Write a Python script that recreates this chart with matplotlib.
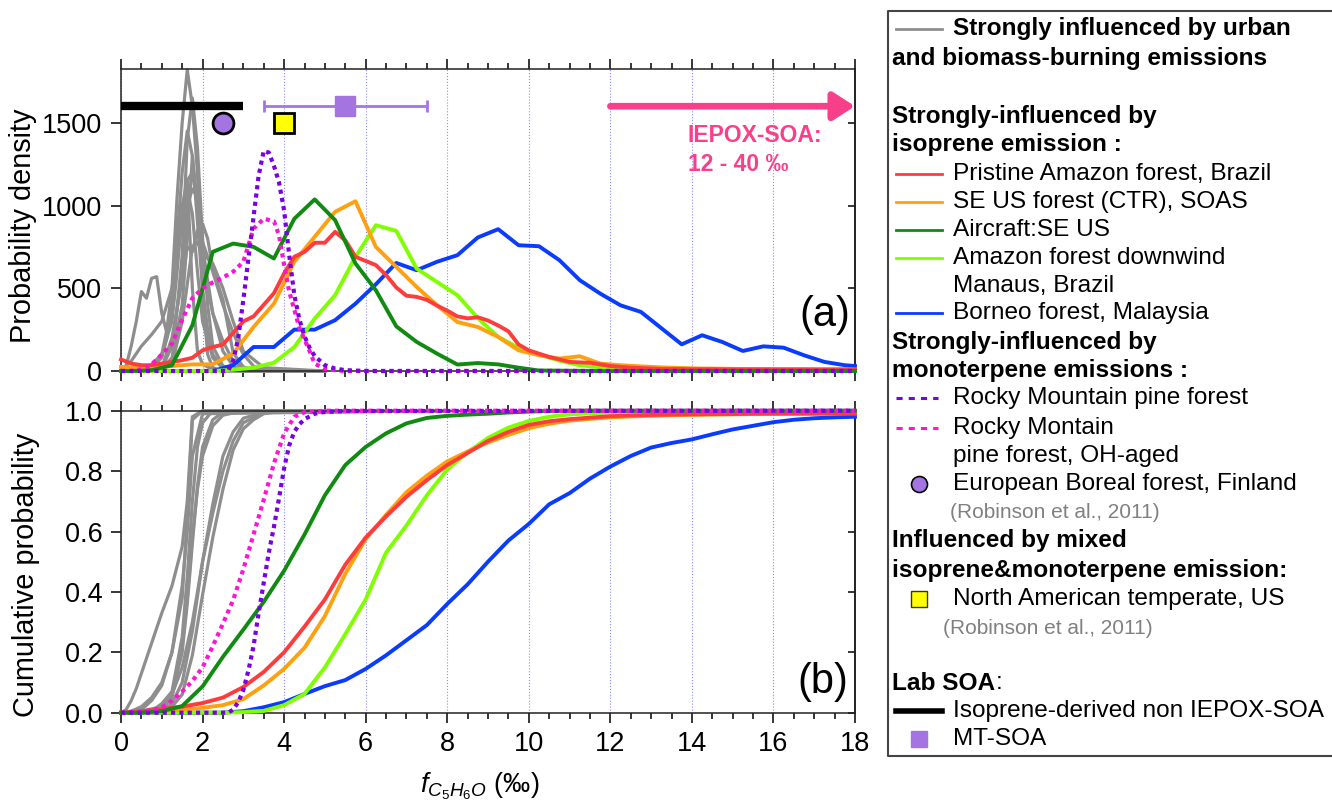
import numpy as np
import matplotlib
matplotlib.use("Agg")
from matplotlib import pyplot as plt

plt.rcParams['font.family'] = ['Liberation Sans', 'DejaVu Sans']
plt.rcParams['mathtext.fontset'] = 'custom'
plt.rcParams['mathtext.rm'] = 'Liberation Sans'
plt.rcParams['mathtext.it'] = 'Liberation Sans:italic'

# ---- probability density (panel a) ----
# bins for most of the isoprene sites
pdf_x = np.concatenate([[0.0], np.arange(0.25, 18, 0.5), [18.0]])
green_pdf = [0, 0, 5, 35, 276, 720, 770, 750, 680, 920, 1037, 912, 650, 488, 270, 176, 105, 39, 48, 40,
             20, 3, 2, 1, 0, 0, 0, 0, 0, 0, 0, 0, 0, 0, 0, 0, 0, 0]
orange_pdf = [25, 20, 20, 30, 40, 40, 105, 266, 407, 660, 811, 962, 1026, 750, 629, 508, 397, 296, 266, 206,
              125, 95, 75, 89, 45, 35, 28, 22, 18, 15, 14, 12, 12, 10, 10, 8, 8, 8]
lime_pdf = [0, 0, 0, 0, 0, 0, 8, 20, 50, 145, 317, 458, 690, 881, 847, 619, 538, 458, 320, 206,
            140, 100, 62, 35, 22, 15, 10, 8, 6, 5, 5, 4, 4, 3, 3, 3, 3, 3]
blue_pdf = [0, 0, 0, 0, 0, 0, 35, 145, 145, 250, 250, 307, 407, 524, 653, 609, 660, 700, 807, 857,
            760, 754, 670, 549, 468, 397, 357, 259, 161, 216, 175, 121, 149, 141, 95, 55, 35, 30]

red_pdf_x = np.arange(0, 18.01, 0.25)
red_pdf = [70, 45, 35, 35, 45, 55, 65, 80, 125, 145, 160, 230, 300, 330, 400, 470, 590, 690, 720, 775,
           775, 841, 790, 690, 665, 640, 580, 505, 455, 448, 430, 395, 365, 330, 318, 325, 305, 275, 240, 160,
           125, 105, 85, 70, 55, 52, 50, 40, 30, 25, 20, 18, 15,
           12, 12, 12, 11, 11, 11, 10, 10, 10, 10, 10, 10, 10, 10, 10, 10, 10, 10, 10, 10]

purple_pdf_x = [0, 2.625, 2.75, 2.875, 3.0, 3.125, 3.25, 3.375, 3.5, 3.625, 3.75, 3.875, 4.0, 4.125,
                4.25, 4.375, 4.5, 4.625, 4.75, 5.0, 5.25, 5.5, 6.0, 18]
purple_pdf = [0, 0, 60, 200, 430, 680, 930, 1180, 1330, 1320, 1240, 1140, 970, 700,
              460, 310, 210, 140, 90, 35, 15, 5, 0, 0]
pink_pdf_x = [0, 0.25, 0.5, 0.75, 1.0, 1.25, 1.5, 1.75, 2.0, 2.25, 2.5, 2.75, 3.0, 3.25, 3.5, 3.75,
              3.875, 4.0, 4.125, 4.25, 4.375, 4.5, 4.625, 4.75, 5.0, 5.25, 5.5, 18]
pink_pdf = [0, 0, 10, 40, 100, 165, 310, 440, 500, 535, 565, 600, 660, 860, 920, 905,
            820, 640, 480, 370, 260, 190, 120, 45, 12, 5, 0, 0]

# urban / biomass-burning sites (grey)
gray_pdf_x = [
    [0, 0.125, 0.25, 0.375, 0.5, 0.625, 0.75, 0.875, 1.0, 1.125, 1.25, 1.375, 1.5, 1.625, 1.75, 1.875, 2.0, 2.25, 2.5, 5],
    [0, 0.5, 0.75, 1.0, 1.125, 1.25, 1.375, 1.5, 1.625, 1.75, 1.875, 2.0, 2.125, 2.25, 2.5, 5],
    [0, 0.75, 1.0, 1.125, 1.25, 1.375, 1.5, 1.625, 1.75, 1.875, 2.0, 2.125, 2.25, 2.5, 3, 5],
    [0, 0.75, 1.0, 1.25, 1.375, 1.5, 1.625, 1.75, 1.875, 2.0, 2.25, 2.5, 2.75, 3, 5],
    [0, 1.0, 1.25, 1.5, 1.625, 1.75, 1.875, 2.0, 2.125, 2.25, 2.5, 2.625, 2.75, 3.0, 3.25, 5],
    [0, 1.0, 1.25, 1.5, 1.625, 1.75, 1.875, 2.0, 2.25, 2.5, 2.75, 3.0, 3.25, 3.5, 5],
    [0, 0.25, 0.5, 0.75, 1.0, 1.25, 1.5, 1.625, 1.75, 1.875, 2.0, 2.25, 2.5, 3, 5],
    [0, 1.25, 1.5, 1.75, 1.875, 2.0, 2.125, 2.25, 2.5, 2.75, 3.0, 3.5, 5],
    [0, 1.0, 1.25, 1.5, 1.625, 1.75, 1.875, 2.0, 2.25, 2.5, 2.75, 3.0, 3.5, 5],
    [0, 1.25, 1.5, 1.625, 1.75, 1.875, 2.0, 2.125, 2.25, 2.5, 3, 5],
]
gray_pdf_y = [
    [0, 30, 150, 300, 480, 440, 560, 570, 350, 230, 330, 650, 1000, 1150, 500, 120, 40, 10, 0, 0],
    [0, 10, 40, 100, 250, 500, 1050, 1500, 1820, 1600, 1200, 470, 100, 20, 0, 0],
    [0, 20, 80, 200, 450, 800, 1200, 1450, 1300, 900, 500, 250, 100, 20, 0, 0],
    [0, 30, 100, 300, 600, 950, 1150, 1200, 1000, 750, 350, 120, 30, 5, 0],
    [0, 20, 200, 550, 750, 720, 850, 890, 800, 620, 430, 270, 110, 25, 5, 0],
    [0, 15, 150, 600, 1000, 1100, 1050, 780, 600, 400, 230, 100, 30, 5, 0],
    [0, 60, 150, 220, 300, 500, 900, 1100, 950, 600, 300, 80, 15, 0, 0],
    [0, 40, 300, 750, 780, 700, 680, 650, 500, 300, 120, 20, 0],
    [0, 10, 80, 400, 800, 1300, 1000, 650, 350, 180, 60, 15, 0, 0],
    [0, 50, 700, 1400, 1650, 1350, 800, 400, 150, 30, 0, 0],
]

# ---- cumulative probability (panel b) ----
cdf_x = np.arange(0, 18.01, 0.5)
green_cdf = [0, 0, 0.005, 0.022, 0.087, 0.185, 0.275, 0.367, 0.47, 0.59, 0.72, 0.82, 0.88, 0.925, 0.958, 0.976,
             0.983, 0.987, 0.99, 0.994, 0.997, 0.999, 1, 1, 1, 1, 1, 1, 1, 1, 1, 1, 1, 1, 1, 1, 1]
red_cdf = [0, 0.005, 0.012, 0.02, 0.032, 0.05, 0.085, 0.135, 0.2, 0.285, 0.375, 0.49, 0.58, 0.65, 0.715, 0.77,
           0.82, 0.86, 0.9, 0.93, 0.953, 0.965, 0.972, 0.977, 0.982, 0.984, 0.986, 0.987, 0.988, 0.989, 0.989,
           0.99, 0.99, 0.99, 0.99, 0.99, 0.99]
orange_cdf = [0, 0.003, 0.006, 0.01, 0.016, 0.025, 0.045, 0.09, 0.145, 0.215, 0.32, 0.46, 0.575, 0.655, 0.73,
              0.785, 0.832, 0.865, 0.895, 0.92, 0.942, 0.957, 0.967, 0.973, 0.978, 0.981, 0.983, 0.985, 0.986,
              0.987, 0.988, 0.989, 0.99, 0.991, 0.991, 0.992, 0.992]
lime_cdf = [0, 0, 0, 0, 0, 0, 0.002, 0.006, 0.025, 0.062, 0.15, 0.26, 0.375, 0.53, 0.62, 0.72, 0.805, 0.862,
            0.91, 0.944, 0.966, 0.98, 0.988, 0.991, 0.994, 0.995, 0.996, 0.997, 0.997, 0.998, 0.998, 0.998,
            0.998, 0.998, 0.998, 0.998, 0.998]
blue_cdf = [0, 0, 0, 0, 0, 0, 0.005, 0.018, 0.035, 0.062, 0.088, 0.108, 0.145, 0.19, 0.24, 0.29, 0.36, 0.425,
            0.5, 0.57, 0.625, 0.69, 0.727, 0.775, 0.815, 0.85, 0.878, 0.893, 0.905, 0.922, 0.938, 0.95, 0.962,
            0.97, 0.975, 0.978, 0.98]
purple_cdf_x = [0, 2.625, 2.75, 2.875, 3.0, 3.125, 3.25, 3.375, 3.5, 3.625, 3.75, 3.875, 4.0, 4.125, 4.25,
                4.375, 4.5, 4.75, 5.0, 5.5, 18]
purple_cdf = [0, 0, 0.01, 0.035, 0.075, 0.14, 0.22, 0.33, 0.43, 0.53, 0.615, 0.71, 0.81, 0.885, 0.93,
              0.955, 0.972, 0.99, 0.996, 0.999, 1.0]
pink_cdf_x = [0, 0.5, 0.75, 1.0, 1.25, 1.5, 1.75, 2.0, 2.25, 2.5, 2.75, 3.0, 3.25, 3.5, 3.75, 4.0, 4.25, 4.5,
              5.0, 18]
pink_cdf = [0, 0.003, 0.008, 0.017, 0.04, 0.07, 0.105, 0.15, 0.22, 0.295, 0.373, 0.475, 0.59, 0.705, 0.825,
            0.925, 0.98, 0.995, 1.0, 1.0]

gray_cdf_x = [
    [0, 0.125, 0.25, 0.375, 0.5, 0.75, 1.0, 1.25, 1.5, 1.625, 1.75, 2, 8],
    [0, 0.5, 0.75, 1.0, 1.25, 1.5, 1.625, 1.75, 2, 8],
    [0, 0.75, 1.0, 1.25, 1.5, 1.625, 1.75, 1.875, 2.0, 2.25, 8],
    [0, 0.75, 1.0, 1.25, 1.5, 1.625, 1.75, 1.875, 2.0, 2.25, 2.5, 8],
    [0, 1.0, 1.25, 1.5, 1.75, 2.0, 2.25, 2.5, 2.75, 3.0, 3.5, 8],
    [0, 1.0, 1.25, 1.5, 1.75, 2.0, 2.25, 2.5, 2.75, 3.0, 3.25, 3.5, 4, 8],
    [0, 0.25, 0.5, 0.75, 1.0, 1.25, 1.5, 1.625, 1.75, 2.0, 8],
    [0, 1.0, 1.25, 1.5, 1.625, 1.75, 1.875, 2.0, 2.25, 2.5, 3.0, 8],
    [0, 0.5, 1.0, 1.25, 1.5, 1.75, 1.875, 2.0, 2.25, 2.5, 2.75, 3.0, 3.5, 8],
]
gray_cdf_y = [
    [0, 0.01, 0.04, 0.08, 0.13, 0.23, 0.33, 0.42, 0.55, 0.70, 0.98, 1, 1],
    [0, 0.01, 0.04, 0.09, 0.2, 0.38, 0.65, 0.97, 1, 1],
    [0, 0.005, 0.03, 0.07, 0.25, 0.45, 0.7, 0.88, 0.96, 1, 1],
    [0, 0.005, 0.02, 0.06, 0.2, 0.36, 0.56, 0.75, 0.88, 0.97, 0.995, 1],
    [0, 0.005, 0.03, 0.1, 0.27, 0.5, 0.69, 0.85, 0.93, 0.975, 0.995, 1],
    [0, 0.004, 0.02, 0.06, 0.19, 0.39, 0.58, 0.74, 0.87, 0.94, 0.97, 0.99, 1, 1],
    [0, 0.005, 0.02, 0.05, 0.1, 0.2, 0.42, 0.6, 0.85, 0.99, 1],
    [0, 0.01, 0.05, 0.22, 0.38, 0.58, 0.74, 0.85, 0.95, 0.985, 1, 1],
    [0, 0.005, 0.02, 0.06, 0.15, 0.3, 0.4, 0.5, 0.66, 0.8, 0.9, 0.96, 0.995, 1],
]

# reference points / lab values
finland_x, finland_y = 2.5, 1500
north_am_x, north_am_y = 4.0, 1500
lab_iso_range, lab_y = (0, 3), 1600
mt_soa_x, mt_soa_err = 5.5, 2.0
iepox_range = (12, 18)

GRAY = '#8e8e8e'
RED = '#ff3c3c'
ORANGE = '#ffa010'
GREEN = '#118a11'
LIME = '#80ff00'
BLUE = '#0a3cff'
PURPLE = '#7a00e6'
PINK = '#ff14d2'
LAVENDER = '#a474e0'
IEPOX = '#f8408a'

fig = plt.figure(figsize=(13.32, 8.07), dpi=100)

# legend panel drawn in figure pixels
leg = fig.add_axes([0, 0, 1, 1])
leg.set_xlim(0, 1332)
leg.set_ylim(807, 0)
leg.axis('off')

ax1 = fig.add_axes([121 / 1332, (807 - 371) / 807, 734 / 1332, 302 / 807])
ax2 = fig.add_axes([121 / 1332, (807 - 712.7) / 807, 734 / 1332, 302 / 807])

dot = (0, (1, 1))
for xs, ys in zip(gray_pdf_x, gray_pdf_y):
    ax1.plot(xs, ys, color=GRAY, lw=2.3, zorder=2, clip_on=False)
ax1.plot(pdf_x, blue_pdf, color=BLUE, lw=2.8, zorder=3, clip_on=False)
ax1.plot(pdf_x, lime_pdf, color=LIME, lw=2.8, zorder=3, clip_on=False)
ax1.plot(pdf_x, orange_pdf, color=ORANGE, lw=2.8, zorder=3, clip_on=False)
ax1.plot(red_pdf_x, red_pdf, color=RED, lw=2.8, zorder=3, clip_on=False)
ax1.plot(pdf_x, green_pdf, color=GREEN, lw=2.8, zorder=3, clip_on=False)
ax1.plot(pink_pdf_x, pink_pdf, color=PINK, lw=3, ls=dot, dash_capstyle='butt', zorder=4, clip_on=False)
ax1.plot(purple_pdf_x, purple_pdf, color=PURPLE, lw=3, ls=dot, dash_capstyle='butt', zorder=4, clip_on=False)

for xs, ys in zip(gray_cdf_x, gray_cdf_y):
    ax2.plot(xs, ys, color=GRAY, lw=2.3, zorder=2, clip_on=False)
ax2.plot(cdf_x, blue_cdf, color=BLUE, lw=2.8, zorder=3, clip_on=False)
ax2.plot(cdf_x, lime_cdf, color=LIME, lw=2.8, zorder=3, clip_on=False)
ax2.plot(cdf_x, orange_cdf, color=ORANGE, lw=2.8, zorder=3, clip_on=False)
ax2.plot(cdf_x, red_cdf, color=RED, lw=2.8, zorder=3, clip_on=False)
ax2.plot(cdf_x, green_cdf, color=GREEN, lw=2.8, zorder=3, clip_on=False)
ax2.plot(pink_cdf_x, pink_cdf, color=PINK, lw=3, ls=dot, dash_capstyle='butt', zorder=4, clip_on=False)
ax2.plot(purple_cdf_x, purple_cdf, color=PURPLE, lw=3, ls=dot, dash_capstyle='butt', zorder=4, clip_on=False)

# markers and ranges in panel (a)
ax1.plot(lab_iso_range, [lab_y, lab_y], color='black', lw=6, solid_capstyle='butt', zorder=5, clip_on=False)
ax1.plot(finland_x, finland_y, 'o', ms=15, mfc=LAVENDER, mec='black', mew=2, zorder=6)
ax1.plot(north_am_x, north_am_y, 's', ms=14.5, mfc='#ffff00', mec='black', mew=2, zorder=6)
ax1.errorbar(mt_soa_x, lab_y, xerr=mt_soa_err, fmt='s', ms=14, color=LAVENDER, ecolor=LAVENDER,
             elinewidth=2, capsize=4, capthick=2, zorder=6)
ax1.annotate('', xy=(iepox_range[1], lab_y), xytext=(iepox_range[0], lab_y),
             arrowprops=dict(arrowstyle='-|>,head_length=0.65,head_width=0.42', color=IEPOX, lw=4.8,
                             mutation_scale=20, shrinkA=0, shrinkB=0), zorder=6)
ax1.text(13.9, 1490, 'IEPOX-SOA:\n12 - 40 \u2030', color=IEPOX, fontsize=16.5, fontweight='bold',
         va='top', ha='left', linespacing=1.3)
ax1.text(17.25, 340, '(a)', fontsize=30, ha='center', va='center')
ax2.text(17.2, 0.10, '(b)', fontsize=30, ha='center', va='center')


def style_axes(ax, yticks):
    ax.set_xlim(0, 18)
    ax.set_xticks(np.arange(0, 19, 2))
    ax.set_xticks(np.arange(0, 18.1, 0.5), minor=True)
    ax.set_yticks(yticks)
    ax.tick_params(axis='x', which='both', direction='out', top=True, bottom=True, width=1.1,
                   labelsize=19.5, pad=6)
    ax.tick_params(axis='x', which='major', length=7.5)
    ax.tick_params(axis='x', which='minor', length=4)
    ax.tick_params(axis='y', direction='out', length=7.5, width=1.1, labelsize=19.5, right=False, pad=6)
    ax.grid(axis='x', color='#8c8cff', linestyle=':', linewidth=0.8)
    for s in ax.spines.values():
        s.set_linewidth(1.1)
        s.set_color('#222222')
    right = ax.secondary_yaxis('right')
    right.set_yticks(yticks)
    right.tick_params(direction='in', length=5, width=1.1, labelright=False)
    right.spines['right'].set_linewidth(1.1)


style_axes(ax1, [0, 500, 1000, 1500])
ax1.set_ylim(0, 1825)
ax1.tick_params(axis='x', labelbottom=False)
ax1.set_ylabel('Probability density', fontsize=20.8)
ax1.yaxis.set_label_coords(-0.114, 0.48)

style_axes(ax2, [0, 0.2, 0.4, 0.6, 0.8, 1.0])
ax2.set_ylim(0, 1.0)
ax2.set_yticklabels(['0.0', '0.2', '0.4', '0.6', '0.8', '1.0'])
ax2.set_ylabel('Cumulative probability', fontsize=20.8)
ax2.yaxis.set_label_coords(-0.110, 0.455)
ax2.set_xlabel('$f_{C_5H_6O}$ (\u2030)', fontsize=19.5)
ax2.xaxis.set_label_coords(0.489, -0.19)

# legend box: open on the right, it runs up to the picture edge
leg.plot([1332, 888, 888, 1332], [11, 11, 756, 756], color='#444444', lw=1.5)
lx0, lx1, tx, hx = 896, 942, 953, 892
fs = 17.6
leg.plot([lx0, lx1], [29, 29], color=GRAY, lw=2)
leg.text(tx, 29, 'Strongly influenced by urban', fontsize=fs, fontweight='bold', va='center')
leg.text(hx, 58, 'and biomass-burning emissions', fontsize=fs, fontweight='bold', va='center')
leg.text(hx, 117, 'Strongly-influenced by', fontsize=fs, fontweight='bold', va='center')
leg.text(hx, 145, 'isoprene emission :', fontsize=fs, fontweight='bold', va='center')
for y, c, lab in [(174, RED, 'Pristine Amazon forest, Brazil'),
                  (202, ORANGE, 'SE US forest (CTR), SOAS'),
                  (230, GREEN, 'Aircraft:SE US'),
                  (258, LIME, 'Amazon forest downwind'),
                  (313, BLUE, 'Borneo forest, Malaysia')]:
    leg.plot([lx0, lx1], [y, y], color=c, lw=2)
    leg.text(tx, y, lab, fontsize=fs, va='center')
leg.text(tx, 286, 'Manaus, Brazil', fontsize=fs, va='center')
leg.text(hx, 342, 'Strongly-influenced by', fontsize=fs, fontweight='bold', va='center')
leg.text(hx, 371, 'monoterpene emissions :', fontsize=fs, fontweight='bold', va='center')
leg.plot([lx0, 938], [398, 398], color=PURPLE, lw=2.2, ls=(0, (2, 2)))
leg.text(tx, 398, 'Rocky Mountain pine forest', fontsize=fs, va='center')
leg.plot([lx0, 938], [428, 428], color=PINK, lw=2.2, ls=(0, (2, 2)))
leg.text(tx, 428, 'Rocky Montain', fontsize=fs, va='center')
leg.text(tx, 456, 'pine forest, OH-aged', fontsize=fs, va='center')
leg.plot(919, 484, 'o', ms=11.5, mfc=LAVENDER, mec='black', mew=1.2)
leg.text(tx, 484, 'European Boreal forest, Finland', fontsize=fs, va='center')
leg.text(950, 513, '(Robinson et al., 2011)', fontsize=15, color='#808080', va='center')
leg.text(hx, 541, 'Influenced by mixed', fontsize=fs, fontweight='bold', va='center')
leg.text(hx, 570, 'isoprene&monoterpene emission:', fontsize=fs, fontweight='bold', va='center')
leg.plot(919, 599, 's', ms=11.5, mfc='#ffff00', mec='#333333', mew=1)
leg.text(tx, 599, 'North American temperate, US', fontsize=fs, va='center')
leg.text(943, 628, '(Robinson et al., 2011)', fontsize=15, color='#808080', va='center')
leg.text(hx, 683, 'Lab SOA', fontsize=fs, fontweight='bold', va='center')
leg.text(996, 683, ':', fontsize=fs, va='center')
leg.plot([lx0, lx1], [711, 711], color='black', lw=4)
leg.text(tx, 711, 'Isoprene-derived non IEPOX-SOA', fontsize=fs, va='center')
leg.plot(919, 739, 's', ms=11.5, color=LAVENDER)
leg.text(tx, 739, 'MT-SOA', fontsize=fs, va='center')

fig.savefig('out.png', dpi=100)
